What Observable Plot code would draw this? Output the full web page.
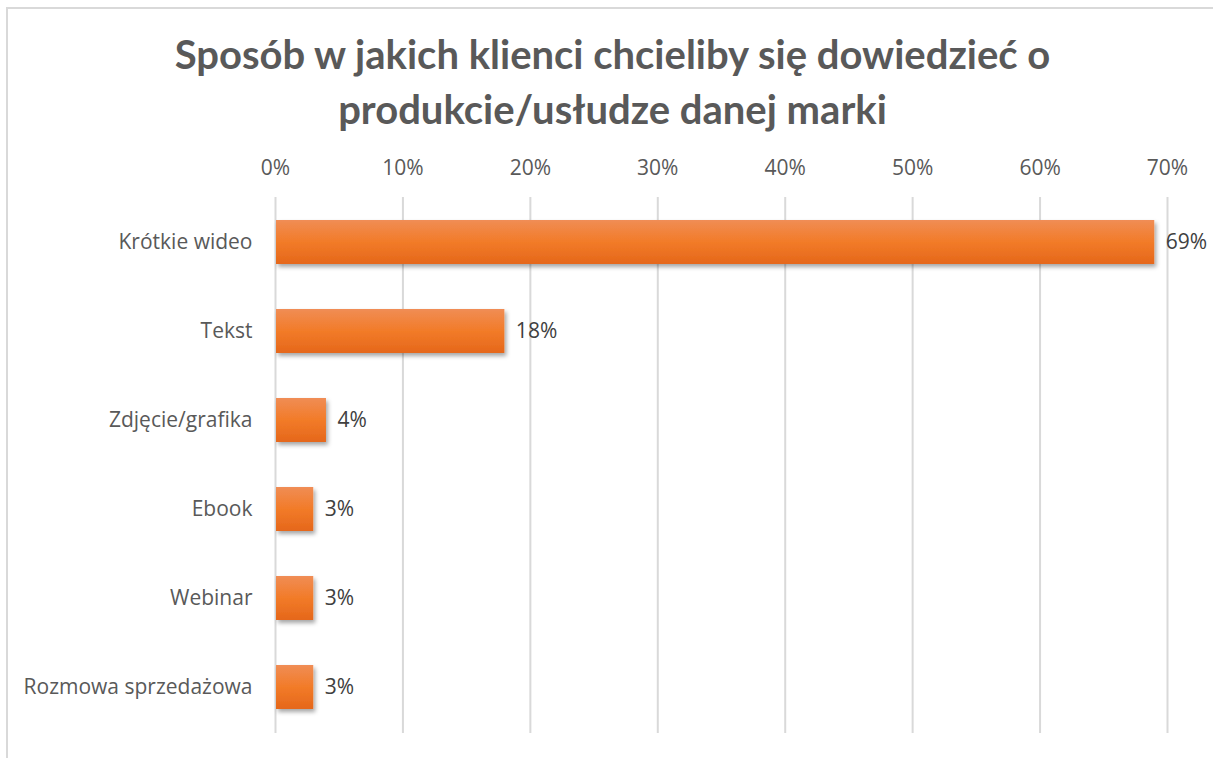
<!DOCTYPE html>
<html>
<head>
<meta charset="utf-8">
<script src="https://cdn.jsdelivr.net/npm/d3@7"></script>
<script src="https://cdn.jsdelivr.net/npm/@observablehq/plot@0.6"></script>
<style>
  html, body { margin: 0; padding: 0; background: #fff; }
  body { width: 1213px; height: 758px; overflow: hidden; position: relative; font-family: "Open Sans", sans-serif; }
  #frame { position: absolute; left: 6px; top: 7px; width: 1300px; height: 900px; border-left: 2px solid #d9d9d9; border-top: 2px solid #d9d9d9; }
  #title { position: absolute; left: 0; top: 27px; width: 1213px; text-align: center; font-family: Lato, sans-serif; font-weight: bold; font-size: 40px; line-height: 55px; color: #595959; padding-left: 12px; box-sizing: border-box; }
  #chart { position: absolute; left: 0; top: 140px; }
</style>
</head>
<body>
<div id="frame"></div>
<div id="title">Sposób w jakich klienci chcieliby się dowiedzieć o<br>produkcie/usłudze danej marki</div>
<div id="chart"></div>
<script>
const categories = ["Krótkie wideo", "Tekst", "Zdjęcie/grafika", "Ebook", "Webinar", "Rozmowa sprzedażowa"];
const values = [0.69, 0.18, 0.04, 0.03, 0.03, 0.03];
const xTicks = [0, 0.1, 0.2, 0.3, 0.4, 0.5, 0.6, 0.7];

const data = categories.map((c, i) => ({category: c, value: values[i]}));
const pct = d3.format(".0%");

const plot = Plot.plot({
  width: 1213,
  height: 613,
  marginTop: 57,
  marginBottom: 20,
  marginLeft: 275,
  marginRight: 46,
  style: { fontFamily: "'Open Sans', sans-serif", fontSize: "21px", color: "#595959", background: "transparent" },
  x: { domain: [0, 0.7], ticks: xTicks, label: null },
  y: { domain: categories, paddingInner: 0.505, paddingOuter: 0.2525, label: null },
  marks: [
    Plot.gridX(xTicks, { stroke: "#d9d9d9", strokeOpacity: 1, strokeWidth: 2 }),
    Plot.axisX(xTicks, { anchor: "top", tickSize: 0, tickPadding: 23, tickFormat: pct, fontSize: 21, fill: "#595959", label: null }),
    Plot.axisY({ tickSize: 0, tickPadding: 23, fontSize: 21, fill: "#595959", label: null }),
    Plot.barX(data, { x: "value", y: "category", fill: "url(#barGrad)", insetLeft: 1 }),
    Plot.text(data, { x: "value", y: "category", text: d => pct(d.value), textAnchor: "start", dx: 11, fontSize: 21, fill: "#404040" })
  ]
});

const svg = d3.select(plot);
const defs = svg.insert("defs", ":first-child");
const g = defs.append("linearGradient").attr("id", "barGrad").attr("x1", 0).attr("y1", 0).attr("x2", 0).attr("y2", 1);
g.append("stop").attr("offset", "0%").attr("stop-color", "#f08d55");
g.append("stop").attr("offset", "50%").attr("stop-color", "#f27b28");
g.append("stop").attr("offset", "100%").attr("stop-color", "#e5671b");
const f = defs.append("filter").attr("id", "shadow").attr("x", "-10%").attr("y", "-20%").attr("width", "130%").attr("height", "160%");
f.append("feDropShadow").attr("dx", 2).attr("dy", 3).attr("stdDeviation", 2).attr("flood-color", "#000").attr("flood-opacity", 0.35);
svg.selectAll("g[aria-label='bar'] rect").attr("filter", "url(#shadow)");

document.getElementById("chart").appendChild(plot);
</script>
</body>
</html>
